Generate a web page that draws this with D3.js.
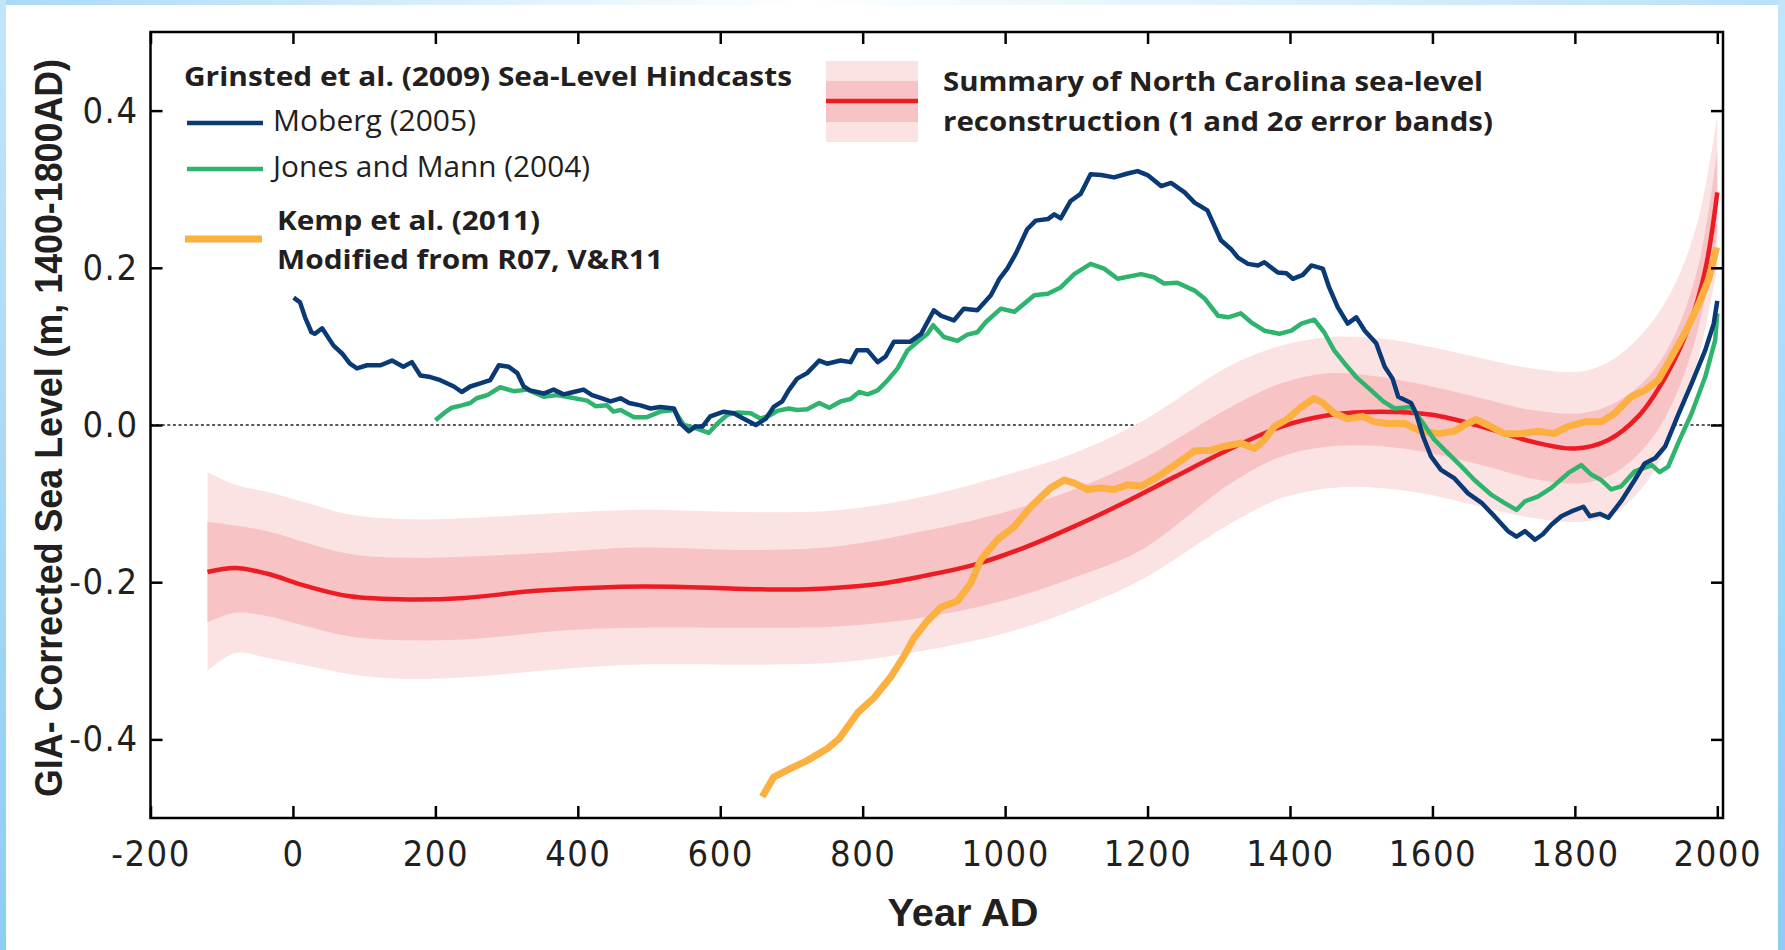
<!DOCTYPE html>
<html>
<head>
<meta charset="utf-8">
<script src="https://cdn.jsdelivr.net/npm/d3@7"></script>
<style>
  body { margin: 0; background: #fff; }
  .tick line { stroke: #000; stroke-width: 2.5; }
  .tick text { font-family: "Liberation Sans Narrow", "DejaVu Sans Condensed", sans-serif;
               font-size: 36px; fill: #231f20; letter-spacing: 1.5px; }
  .legend { font-family: "Open Sans", "Liberation Sans", sans-serif; fill: #231f20; }
</style>
</head>
<body>
<svg id="chart" width="1785" height="950"></svg>
<script>
// ---- data ----
const xTicks = [-200, 0, 200, 400, 600, 800, 1000, 1200, 1400, 1600, 1800, 2000];
const yTicks = [-0.4, -0.2, 0.0, 0.2, 0.4];

// Grinsted et al. (2009) hindcast, Moberg (2005) -- [year, m]
const moberg = [[1,0.162],[10,0.156],[17,0.137],[26,0.118],[31,0.116],[41,0.123],[57,0.101],[69,0.091],[80,0.078],[90,0.072],[104,0.076],[123,0.076],[139,0.082],[155,0.074],[167,0.080],[179,0.063],[193,0.061],[207,0.057],[226,0.049],[237,0.042],[249,0.049],[263,0.053],[277,0.057],[289,0.076],[303,0.074],[315,0.066],[324,0.049],[333,0.044],[352,0.040],[366,0.045],[380,0.039],[394,0.042],[408,0.045],[420,0.038],[434,0.034],[446,0.030],[460,0.034],[472,0.028],[488,0.025],[502,0.021],[516,0.023],[535,0.021],[544,0.002],[556,-0.008],[565,-0.002],[575,-0.002],[586,0.011],[605,0.017],[619,0.015],[633,0.008],[650,0.0],[664,0.008],[675,0.023],[687,0.030],[696,0.044],[708,0.059],[722,0.066],[739,0.082],[750,0.078],[769,0.082],[783,0.080],[792,0.095],[807,0.095],[821,0.080],[832,0.087],[844,0.106],[867,0.106],[882,0.116],[900,0.146],[910,0.139],[928,0.133],[942,0.148],[961,0.146],[980,0.165],[992,0.186],[1003,0.199],[1015,0.218],[1031,0.249],[1043,0.260],[1060,0.262],[1069,0.268],[1078,0.263],[1092,0.285],[1106,0.294],[1120,0.319],[1135,0.318],[1153,0.315],[1172,0.320],[1186,0.323],[1200,0.318],[1219,0.304],[1233,0.308],[1252,0.296],[1266,0.283],[1284,0.273],[1303,0.235],[1317,0.224],[1327,0.213],[1341,0.205],[1355,0.203],[1364,0.207],[1383,0.194],[1395,0.193],[1404,0.186],[1418,0.191],[1430,0.203],[1446,0.199],[1455,0.175],[1467,0.150],[1481,0.129],[1493,0.137],[1505,0.120],[1521,0.104],[1533,0.074],[1544,0.059],[1552,0.036],[1570,0.028],[1577,0.015],[1587,-0.015],[1598,-0.040],[1612,-0.057],[1631,-0.068],[1650,-0.087],[1669,-0.099],[1687,-0.116],[1706,-0.135],[1718,-0.142],[1730,-0.135],[1744,-0.146],[1755,-0.139],[1767,-0.127],[1781,-0.116],[1795,-0.110],[1812,-0.104],[1821,-0.116],[1835,-0.113],[1847,-0.118],[1865,-0.097],[1884,-0.070],[1898,-0.049],[1913,-0.042],[1927,-0.027],[1945,0.013],[1964,0.053],[1983,0.095],[1995,0.129],[2000,0.158]];

// Jones and Mann (2004)
const jonesMann = [[200,0.006],[212,0.015],[223,0.022],[237,0.025],[249,0.028],[258,0.034],[273,0.038],[291,0.048],[310,0.043],[329,0.045],[352,0.036],[371,0.038],[390,0.035],[413,0.031],[425,0.024],[441,0.025],[450,0.017],[460,0.019],[479,0.010],[497,0.010],[516,0.017],[535,0.019],[549,0.000],[565,-0.004],[584,-0.010],[596,0.002],[610,0.013],[624,0.016],[643,0.015],[657,0.008],[671,0.013],[680,0.018],[696,0.021],[708,0.019],[722,0.020],[739,0.028],[753,0.022],[769,0.030],[783,0.033],[795,0.042],[807,0.039],[821,0.044],[835,0.057],[849,0.072],[863,0.095],[877,0.106],[891,0.116],[899,0.127],[914,0.112],[933,0.107],[947,0.115],[961,0.118],[973,0.131],[994,0.148],[1013,0.144],[1041,0.165],[1060,0.167],[1078,0.175],[1097,0.192],[1120,0.205],[1139,0.199],[1158,0.186],[1191,0.192],[1209,0.188],[1223,0.180],[1242,0.181],[1266,0.171],[1280,0.161],[1299,0.139],[1313,0.137],[1331,0.142],[1345,0.131],[1364,0.120],[1385,0.116],[1402,0.120],[1416,0.129],[1434,0.134],[1448,0.118],[1462,0.095],[1477,0.078],[1493,0.061],[1514,0.044],[1531,0.030],[1547,0.021],[1570,0.023],[1584,0.006],[1603,-0.019],[1622,-0.036],[1641,-0.053],[1659,-0.070],[1683,-0.089],[1701,-0.099],[1718,-0.108],[1730,-0.097],[1748,-0.091],[1767,-0.080],[1791,-0.061],[1809,-0.051],[1823,-0.063],[1837,-0.070],[1851,-0.082],[1865,-0.078],[1884,-0.059],[1908,-0.051],[1919,-0.060],[1931,-0.053],[1945,-0.023],[1964,0.015],[1983,0.061],[1997,0.108],[2000,0.142]];

// Kemp et al. (2011)
const kemp = [[659,-0.473],[675,-0.448],[699,-0.437],[722,-0.427],[750,-0.412],[767,-0.399],[793,-0.366],[816,-0.347],[839,-0.321],[858,-0.294],[872,-0.271],[891,-0.249],[910,-0.232],[933,-0.224],[952,-0.201],[966,-0.171],[989,-0.146],[1013,-0.129],[1036,-0.104],[1064,-0.080],[1083,-0.070],[1097,-0.074],[1116,-0.082],[1135,-0.080],[1153,-0.082],[1172,-0.076],[1191,-0.078],[1214,-0.066],[1238,-0.051],[1266,-0.033],[1289,-0.032],[1308,-0.027],[1331,-0.023],[1350,-0.030],[1364,-0.019],[1378,-0.002],[1397,0.008],[1416,0.023],[1434,0.034],[1446,0.028],[1462,0.015],[1481,0.008],[1502,0.011],[1519,0.004],[1537,0.002],[1561,0.002],[1584,-0.008],[1608,-0.011],[1631,-0.008],[1645,0.000],[1661,0.007],[1678,0.000],[1701,-0.011],[1725,-0.011],[1748,-0.008],[1771,-0.011],[1790,-0.002],[1814,0.004],[1837,0.004],[1856,0.015],[1879,0.036],[1898,0.044],[1917,0.057],[1936,0.087],[1955,0.118],[1974,0.154],[1988,0.186],[1999,0.226]];

// North Carolina reconstruction: mean
const ncMean = [[-120,-0.187],[-81,-0.182],[-37,-0.189],[19,-0.205],[80,-0.218],[163,-0.222],[241,-0.220],[341,-0.211],[452,-0.206],[547,-0.206],[657,-0.209],[722,-0.209],[816,-0.203],[886,-0.192],[956,-0.178],[1027,-0.156],[1097,-0.129],[1167,-0.099],[1238,-0.066],[1317,-0.030],[1388,-0.002],[1458,0.013],[1528,0.017],[1599,0.013],[1669,-0.002],[1739,-0.021],[1800,-0.030],[1847,-0.019],[1889,0.011],[1927,0.061],[1960,0.125],[1983,0.197],[2000,0.296]];

// error bands
const bandYears = [-120, -81, -37, 19, 80, 163, 257, 369, 480, 657, 769, 886, 1003, 1097, 1191, 1317, 1388, 1458, 1528, 1599, 1669, 1739, 1809, 1856, 1903, 1941, 1974, 2000];
const band2Lo = [-0.313,-0.290,-0.296,-0.306,-0.317,-0.323,-0.320,-0.311,-0.305,-0.305,-0.302,-0.287,-0.264,-0.235,-0.197,-0.125,-0.093,-0.080,-0.080,-0.089,-0.104,-0.118,-0.123,-0.112,-0.070,-0.002,0.087,0.200];
const band1Lo = [-0.251,-0.239,-0.243,-0.256,-0.269,-0.274,-0.272,-0.262,-0.258,-0.258,-0.256,-0.245,-0.222,-0.194,-0.159,-0.074,-0.040,-0.027,-0.027,-0.036,-0.051,-0.068,-0.074,-0.061,-0.023,0.036,0.125,0.245];
const band1Hi = [-0.123,-0.128,-0.135,-0.150,-0.164,-0.169,-0.167,-0.162,-0.156,-0.159,-0.154,-0.135,-0.110,-0.082,-0.044,0.023,0.053,0.066,0.061,0.049,0.034,0.019,0.015,0.028,0.061,0.116,0.205,0.349];
const band2Hi = [-0.060,-0.076,-0.085,-0.099,-0.114,-0.120,-0.118,-0.112,-0.108,-0.111,-0.108,-0.091,-0.063,-0.036,0.004,0.076,0.101,0.112,0.110,0.099,0.085,0.072,0.068,0.085,0.125,0.180,0.264,0.393];

const hindcastTitle = "Grinsted et al. (2009) Sea-Level Hindcasts";
const legendNames = ["Moberg (2005)", "Jones and Mann (2004)"];
const kempNames = ["Kemp et al. (2011)", "Modified from R07, V&R11"];
const ncNames = ["Summary of North Carolina sea-level", "reconstruction (1 and 2\u03c3 error bands)"];

// ---- colours ----
const cMoberg = "#0a3a76", cJones = "#2fb46e", cKemp = "#fbb040", cRed = "#ed1c24";
const cBand1 = "#f8c3c5", cBand2 = "#fbe2e3";

// ---- chart ----
const svg = d3.select("#chart");
const plotL = 150.5, plotR = 1723, plotT = 32, plotB = 818;

const x = d3.scaleLinear().domain([-200, 2008]).range([plotL, plotR]);
const y = d3.scaleLinear().domain([-0.5, 0.5]).range([plotB, plotT]);

// window border stripes
const defs = svg.append("defs");
const gTop = defs.append("linearGradient").attr("id", "gTop");
gTop.append("stop").attr("offset", "0").attr("stop-color", "#a9d9f7");
gTop.append("stop").attr("offset", "0.45").attr("stop-color", "#ffffff");
gTop.append("stop").attr("offset", "1").attr("stop-color", "#b9e0f8");
const gSide = defs.append("linearGradient").attr("id", "gSide").attr("x2", 0).attr("y2", 1);
gSide.append("stop").attr("offset", "0").attr("stop-color", "#c2e5fa");
gSide.append("stop").attr("offset", "1").attr("stop-color", "#8dcdf4");

svg.append("rect").attr("width", 1785).attr("height", 950).attr("fill", "#fff");
svg.append("rect").attr("width", 1785).attr("height", 5).attr("fill", "url(#gTop)");
svg.append("rect").attr("width", 6).attr("height", 950).attr("fill", "url(#gSide)");
svg.append("rect").attr("x", 1778).attr("width", 7).attr("height", 950).attr("fill", "url(#gSide)");

// zero reference line (under the bands)
svg.append("line")
    .attr("x1", plotL).attr("x2", plotR)
    .attr("y1", y(0)).attr("y2", y(0))
    .attr("stroke", "#58595b").attr("stroke-width", 2)
    .attr("stroke-dasharray", "3,2.6");

// error bands
const bands = bandYears.map((yr, i) => ({yr, lo2: band2Lo[i], lo1: band1Lo[i], hi1: band1Hi[i], hi2: band2Hi[i]}));
const area = (lo, hi) => d3.area()
    .x(d => x(d.yr)).y0(d => y(d[lo])).y1(d => y(d[hi]))
    .curve(d3.curveCatmullRom);
svg.append("path").datum(bands).attr("d", area("lo2", "hi2")).attr("fill", cBand2);
svg.append("path").datum(bands).attr("d", area("lo1", "hi1")).attr("fill", cBand1);

const smooth = d3.line().x(d => x(d[0])).y(d => y(d[1])).curve(d3.curveCatmullRom);
const line = d3.line().x(d => x(d[0])).y(d => y(d[1]));

svg.append("path").datum(ncMean)
    .attr("d", smooth)
    .attr("fill", "none").attr("stroke", cRed).attr("stroke-width", 4.5);

function series(data, colour, w) {
    svg.append("path").datum(data)
        .attr("d", line)
        .attr("fill", "none").attr("stroke", colour).attr("stroke-width", w)
        .attr("stroke-linejoin", "round").attr("stroke-linecap", "butt");
}
series(kemp, cKemp, 7);
series(jonesMann, cJones, 4.5);
series(moberg, cMoberg, 4.5);

// axes: ticks point inwards on all four sides
svg.append("g").attr("transform", `translate(0,${plotB})`)
    .call(d3.axisBottom(x).tickValues(xTicks).tickSize(-12).tickPadding(22).tickFormat(d => String(d)))
    .call(g => g.select(".domain").remove());
svg.append("g").attr("transform", `translate(0,${plotT})`)
    .call(d3.axisTop(x).tickValues(xTicks).tickSize(-12).tickFormat(""))
    .call(g => g.select(".domain").remove());
svg.append("g").attr("transform", `translate(${plotL},0)`)
    .call(d3.axisLeft(y).tickValues(yTicks).tickSize(-12).tickPadding(12).tickFormat(d => d.toFixed(1)))
    .call(g => g.select(".domain").remove());
svg.append("g").attr("transform", `translate(${plotR},0)`)
    .call(d3.axisRight(y).tickValues(yTicks).tickSize(-12).tickFormat(""))
    .call(g => g.select(".domain").remove());

svg.append("rect")
    .attr("x", plotL).attr("y", plotT)
    .attr("width", plotR - plotL).attr("height", plotB - plotT)
    .attr("fill", "none").attr("stroke", "#000").attr("stroke-width", 2.5);

// axis titles
svg.append("text")
    .attr("transform", "translate(62,428) rotate(-90)")
    .attr("text-anchor", "middle")
    .attr("font-family", "'Liberation Sans Narrow', sans-serif")
    .attr("font-weight", "bold").attr("font-size", 38).attr("fill", "#231f20")
    .attr("textLength", 738).attr("lengthAdjust", "spacingAndGlyphs")
    .text("GIA- Corrected Sea Level (m, 1400-1800AD)");

svg.append("text")
    .attr("x", 963).attr("y", 926)
    .attr("text-anchor", "middle")
    .attr("font-family", "'Liberation Sans', sans-serif")
    .attr("font-weight", "bold").attr("font-size", 38).attr("fill", "#231f20")
    .attr("textLength", 151).attr("lengthAdjust", "spacingAndGlyphs")
    .text("Year AD");

// ---- legends ----
function legendText(str, tx, ty, size, bold, len) {
    svg.append("text").attr("class", "legend")
        .attr("x", tx).attr("y", ty)
        .attr("font-size", size).attr("font-weight", bold ? "bold" : "normal")
        .attr("textLength", len).attr("lengthAdjust", "spacingAndGlyphs")
        .text(str);
}
function legendLine(x1, x2, ly, colour, w) {
    svg.append("line").attr("x1", x1).attr("x2", x2).attr("y1", ly).attr("y2", ly)
        .attr("stroke", colour).attr("stroke-width", w);
}

legendText(hindcastTitle, 184, 86, 27, true, 608);
legendLine(187, 263, 123, cMoberg, 4.5);
legendText(legendNames[0], 273, 131, 29, false, 203);
legendLine(187, 263, 169, cJones, 4.5);
legendText(legendNames[1], 273, 177, 29, false, 317);
legendLine(185, 262, 239, cKemp, 7);
legendText(kempNames[0], 277, 230, 27, true, 263);
legendText(kempNames[1], 277, 269, 27, true, 386);

svg.append("rect").attr("x", 826).attr("y", 61).attr("width", 92).attr("height", 81).attr("fill", cBand2);
svg.append("rect").attr("x", 826).attr("y", 81).attr("width", 92).attr("height", 41).attr("fill", cBand1);
legendLine(826, 918, 101, cRed, 4.5);
legendText(ncNames[0], 943, 91, 27, true, 540);
legendText(ncNames[1], 943, 131, 27, true, 550);
</script>
</body>
</html>
